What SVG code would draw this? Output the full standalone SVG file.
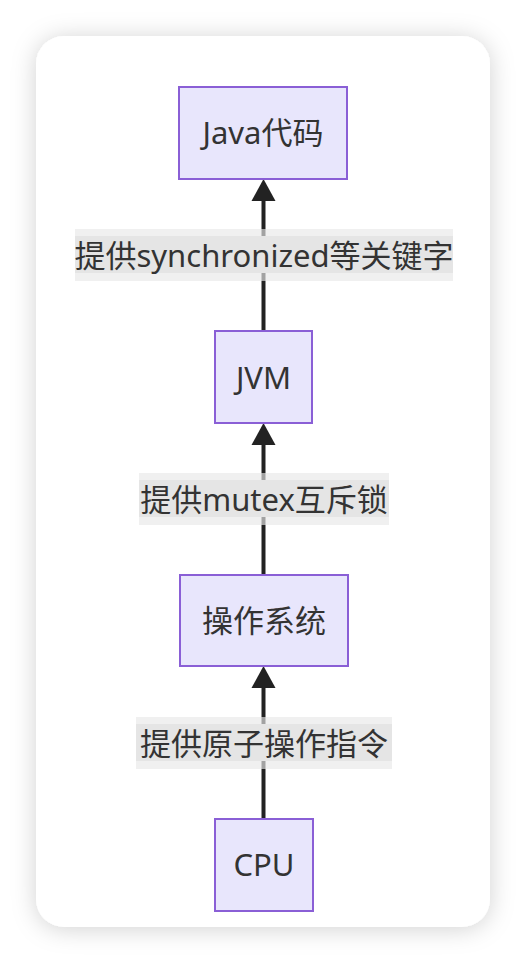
<svg xmlns="http://www.w3.org/2000/svg" width="526" height="964" viewBox="0 0 526 964">
<defs>
<filter id="sh" x="-20%" y="-10%" width="140%" height="120%">
<feDropShadow dx="0" dy="2" stdDeviation="12" flood-color="#000" flood-opacity="0.18"/>
</filter>
<style>
.node rect{fill:#e8e6fc;stroke:#8a5fd6;stroke-width:2}
text{font-family:"Noto Sans","Noto Sans CJK SC",sans-serif;font-size:31px;fill:#333;text-anchor:middle;dominant-baseline:central}
.edge line{stroke:#222;stroke-width:4}
.edge polygon{fill:#222}
.lbo{fill:#e8e8e8;fill-opacity:0.65}
.lbi{fill:#e5e5e5}
</style>
</defs>
<rect x="0" y="0" width="526" height="964" fill="#fff"/>
<rect x="36" y="36" width="454" height="891" rx="28" fill="#fff" filter="url(#sh)"/>
<g id="connectors">
<g class="edge">
<line x1="263.5" y1="331" x2="263.5" y2="198"/>
<polygon points="263.5,179 251.5,201 275.5,201"/>
</g>
<g class="edge">
<line x1="263.5" y1="575" x2="263.5" y2="442"/>
<polygon points="263.5,423 251.5,445 275.5,445"/>
</g>
<g class="edge">
<line x1="263.5" y1="818" x2="263.5" y2="685"/>
<polygon points="263.5,666 251.5,688 275.5,688"/>
</g>
</g>
<g id="label1">
<rect class="lbo" x="75" y="229" width="378" height="52"/>
<rect class="lbi" x="75" y="236" width="378" height="37"/>
<text x="264" y="255">提供synchronized等关键字</text>
</g>
<g id="label2">
<rect class="lbo" x="139" y="473" width="250" height="52"/>
<rect class="lbi" x="139" y="480" width="250" height="37"/>
<text x="264" y="499">提供mutex互斥锁</text>
</g>
<g id="label3">
<rect class="lbo" x="136" y="717" width="256" height="52"/>
<rect class="lbi" x="136" y="724" width="256" height="37"/>
<text x="264" y="743">提供原子操作指令</text>
</g>
<g id="java" class="node">
<rect x="179" y="87" width="168" height="92"/>
<text x="263" y="132">Java代码</text>
</g>
<g id="jvm" class="node">
<rect x="215" y="331" width="97" height="92"/>
<text x="263.5" y="377">JVM</text>
</g>
<g id="os" class="node">
<rect x="180" y="575" width="168" height="91"/>
<text x="264" y="620">操作系统</text>
</g>
<g id="cpu" class="node">
<rect x="215" y="819" width="98" height="92"/>
<text x="264" y="864">CPU</text>
</g>
</svg>
